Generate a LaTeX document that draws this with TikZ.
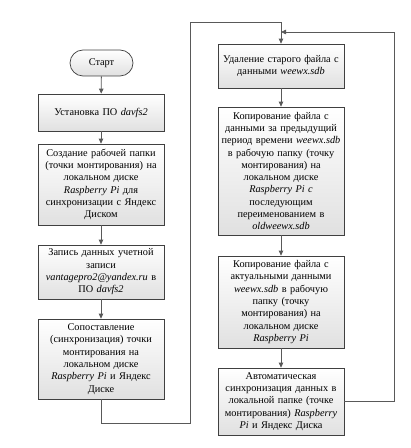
\documentclass[tikz,border=0pt]{standalone}
\usepackage{fontspec}
\setmainfont{Liberation Serif}
\usetikzlibrary{arrows.meta}
\tikzset{
  procbox/.style={draw=black!75, line width=0.7bp, top color=white, bottom color=black!12,
    minimum width=126bp, text width=120bp, align=center, inner sep=1bp,
    font=\fontsize{10.3bp}{12.3bp}\selectfont},
  termbox/.style={procbox, rounded corners=13bp, minimum width=63bp, text width=55bp, minimum height=26bp},
  link/.style={draw=black!65, line width=0.8bp, -{Triangle[length=5bp,width=4.5bp]}},
  plain/.style={draw=black!65, line width=0.8bp}
}
\begin{document}
\begin{tikzpicture}[x=1bp,y=-1bp]
\useasboundingbox (0,0) rectangle (410,448);
\node[termbox] (start) at (101.5,63) {Старт};
\node[procbox, minimum height=37bp] (b1) at (101,112.5) {Установка ПО \textit{davfs2}};
\node[procbox, minimum height=81bp] (b2) at (101,184.5) {Создание рабочей папки\\(точки монтирования) на\\локальном диске\\\textit{Raspberry Pi} для\\синхронизации с Яндекс\\Диском};
\node[procbox, minimum height=54bp] (b3) at (101,272) {Запись данных учетной\\записи\\\textit{vantagepro2@yandex.ru} в\\ПО \textit{davfs2}};
\node[procbox, minimum height=80bp] (b4) at (101,359) {Сопоставление\\(синхронизация) точки\\монтирования на\\локальном диске\\\textit{Raspberry Pi} и Яндекс\\Диске};
\node[procbox, minimum height=44bp] (b5) at (281,66) {Удаление старого файла с\\данными \textit{weewx.sdb}};
\node[procbox, minimum height=128bp] (b6) at (281,171) {Копирование файла с\\данными за предыдущий\\период времени \textit{weewx.sdb}\\в рабочую папку (точку\\монтирования) на\\локальном диске\\\textit{Raspberry Pi с}\\последующим\\переименованием в\\\textit{oldweewx.sdb}};
\node[procbox, minimum height=92bp] (b7) at (281,302) {Копирование файла с\\актуальными данными\\\textit{weewx.sdb} в рабочую\\папку (точку\\монтирования) на\\локальном диске\\\textit{Raspberry Pi}};
\node[procbox, minimum height=67bp] (b8) at (281,401.5) {Автоматическая\\синхронизация данных в\\локальной папке (точке\\монтирования) \textit{Raspberry}\\\textit{Pi} и Яндекс Диска};
\coordinate (c1) at (101,423);
\coordinate (c2) at (190,423);
\coordinate (c3) at (190,22);
\coordinate (c4) at (281,22);
\coordinate (f1) at (394,401.5);
\coordinate (f2) at (394,32);
\coordinate (f3) at (281,32);
\draw[link] (start) -- (b1);
\draw[link] (b1) -- (b2);
\draw[link] (b2) -- (b3);
\draw[link] (b3) -- (b4);
\draw[link] (b4.south) -- (c1) -- (c2) -- (c3) -- (c4) -- (b5.north);
\draw[link] (b5) -- (b6);
\draw[link] (b6) -- (b7);
\draw[link] (b7) -- (b8);
\draw[link] (b8.east) -- (f1) -- (f2) -- (f3);
\end{tikzpicture}
\end{document}
